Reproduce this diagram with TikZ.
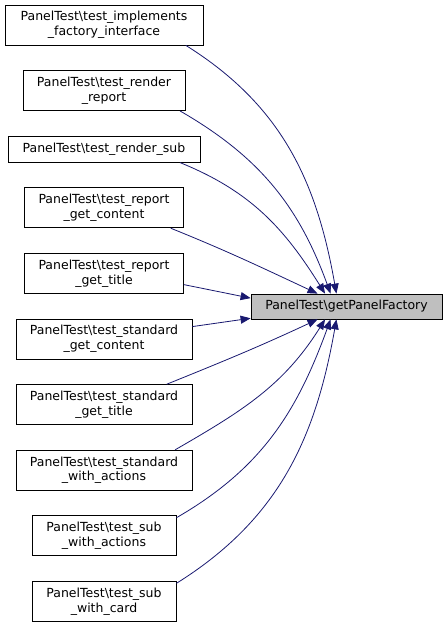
\documentclass[tikz,border=0pt]{standalone}
\usepackage{fontspec}
\setmainfont{DejaVu Sans}
\usepackage{tikz}
\usetikzlibrary{positioning,arrows.meta}
\definecolor{callblue}{HTML}{191970}
\definecolor{focusgray}{HTML}{BFBFBF}
\tikzset{
  fbox/.style ={rectangle, draw=black, line width=0.8bp, fill=white, align=center,
                inner sep=2bp, minimum height=40bp,
                font=\fontsize{12.5bp}{14.8bp}\selectfont},
  fboxs/.style={fbox, minimum height=26bp},
  focus/.style={fboxs, fill=focusgray, minimum height=25bp},
  arr/.style  ={-{Triangle[length=10bp,width=8bp]}, draw=callblue, line width=0.8bp},
}
\newcommand{\bs}{\textbackslash}

\begin{document}
\begin{tikzpicture}[node distance=24.8bp]
  \useasboundingbox (0,0) rectangle (447bp,-627bp);
  \node[fbox, minimum width=198bp] (impl) at (104bp,-25bp) {PanelTest\bs test\_implements\\\_factory\_interface};
  \node[fbox, minimum width=162bp, below=of impl] (rreport) {PanelTest\bs test\_render\\\_report};
  \node[fboxs, minimum width=192bp, below=of rreport] (rsub) {PanelTest\bs test\_render\_sub};
  \node[fbox, minimum width=159bp, below=of rsub] (rcontent) {PanelTest\bs test\_report\\\_get\_content};
  \node[fbox, minimum width=159bp, below=of rcontent] (rtitle) {PanelTest\bs test\_report\\\_get\_title};
  \node[fbox, minimum width=176bp, below=of rtitle] (scontent) {PanelTest\bs test\_standard\\\_get\_content};
  \node[fbox, minimum width=176bp, below=of scontent] (stitle) {PanelTest\bs test\_standard\\\_get\_title};
  \node[fbox, minimum width=176bp, below=of stitle] (sactions) {PanelTest\bs test\_standard\\\_with\_actions};
  \node[fbox, minimum width=144bp, below=of sactions] (subact) {PanelTest\bs test\_sub\\\_with\_actions};
  \node[fbox, minimum width=144bp, below=of subact] (subcard) {PanelTest\bs test\_sub\\\_with\_card};
  \node[focus, minimum width=191bp] (factory) at (346.5bp,-306.5bp) {PanelTest\bs getPanelFactory};

  % callers -> getPanelFactory
  \draw[arr] (impl.-14) to[out=-32, in=100] (factory.128);
  \draw[arr] (rreport.-15) to[out=-30, in=110] (factory.141);
  \draw[arr] (rsub.-10) to[out=-22, in=122] (factory.149);
  \draw[arr] (rcontent.-17) to[out=-22, in=155] (factory.156);
  \draw[arr] (rtitle.-8) -- (factory.175);
  \draw[arr] (scontent.8) -- (factory.-173);
  \draw[arr] (stitle.18) to[out=22, in=-155] (factory.-156);
  \draw[arr] (sactions.16) to[out=30, in=-122] (factory.-149);
  \draw[arr] (subact.14) to[out=30, in=-110] (factory.-141);
  \draw[arr] (subcard.14) to[out=32, in=-100] (factory.-128);
\end{tikzpicture}
\end{document}
